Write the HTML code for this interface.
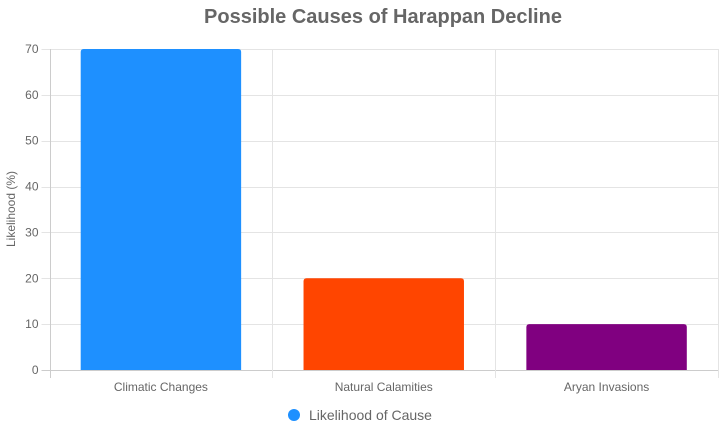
<!DOCTYPE html>
<html><head><meta charset="utf-8"><style>
body{margin:0;background:#fff;font-family:"Liberation Sans",Arial,sans-serif}
</style></head><body>
<svg id="chart" width="719" height="433" xmlns="http://www.w3.org/2000/svg">
<text x="383" y="23" text-anchor="middle" font-size="20" font-weight="bold" fill="#666">Possible Causes of Harappan Decline</text>
<text transform="translate(15,209) rotate(-90)" text-anchor="middle" font-size="12" fill="#666">Likelihood (%)</text>
<g id="grid"></g><g id="bars"></g><g id="labels"></g>
<g>
<circle cx="294" cy="415" r="6" fill="#1E90FF"/>
<text x="309" y="420" font-size="14" fill="#666">Likelihood of Cause</text>
</g>
</svg>
<script>
const categories=["Climatic Changes","Natural Calamities","Aryan Invasions"];
const values=[70,20,10];
const colors=["#1E90FF","#FF4500","#800080"];
const yTicks=[0,10,20,30,40,50,60,70];
const L=49.5,R=718,T=49,B=370,yMax=70;
const y=v=>B-(v/yMax)*(B-T);
const cw=(R-L)/categories.length;
const x=i=>L+i*cw;
const ns="http://www.w3.org/2000/svg";
function mk(tag,attrs,parent){const e=document.createElementNS(ns,tag);for(const k in attrs)e.setAttribute(k,attrs[k]);document.getElementById(parent).appendChild(e);return e;}
yTicks.forEach(t=>{
 const l=mk('line',{x1:L-8,x2:R,y1:Math.round(y(t))+0.5,y2:Math.round(y(t))+0.5,stroke:t===0?'#ccc':'#e4e4e4'},'grid');
 
 
 const tx=mk('text',{x:L-11,y:y(t)+4,'text-anchor':'end','font-size':12,fill:'#666'},'labels');
 tx.textContent=t;
 
 
});
for(let i=0;i<=categories.length;i++){
 const l=mk('line',{x1:Math.round(x(i))+0.5,x2:Math.round(x(i))+0.5,y1:T,y2:B+8,stroke:i===0?'#ccc':'#e4e4e4'},'grid');
 
 
}
categories.forEach((c,i)=>{
 const bw=cw*0.72,bx=x(i)+(cw-bw)/2,top=y(values[i]),h=B-top,r=3;
 const p=mk('path',{d:`M${bx},${B}V${top+r}Q${bx},${top} ${bx+r},${top}H${bx+bw-r}Q${bx+bw},${top} ${bx+bw},${top+r}V${B}Z`,fill:colors[i]},'bars');
 
 
 const tx=mk('text',{x:x(i)+cw/2,y:B+21,'text-anchor':'middle','font-size':12,fill:'#666'},'labels');
 tx.textContent=c;
 
 
});
</script>
</body></html>
